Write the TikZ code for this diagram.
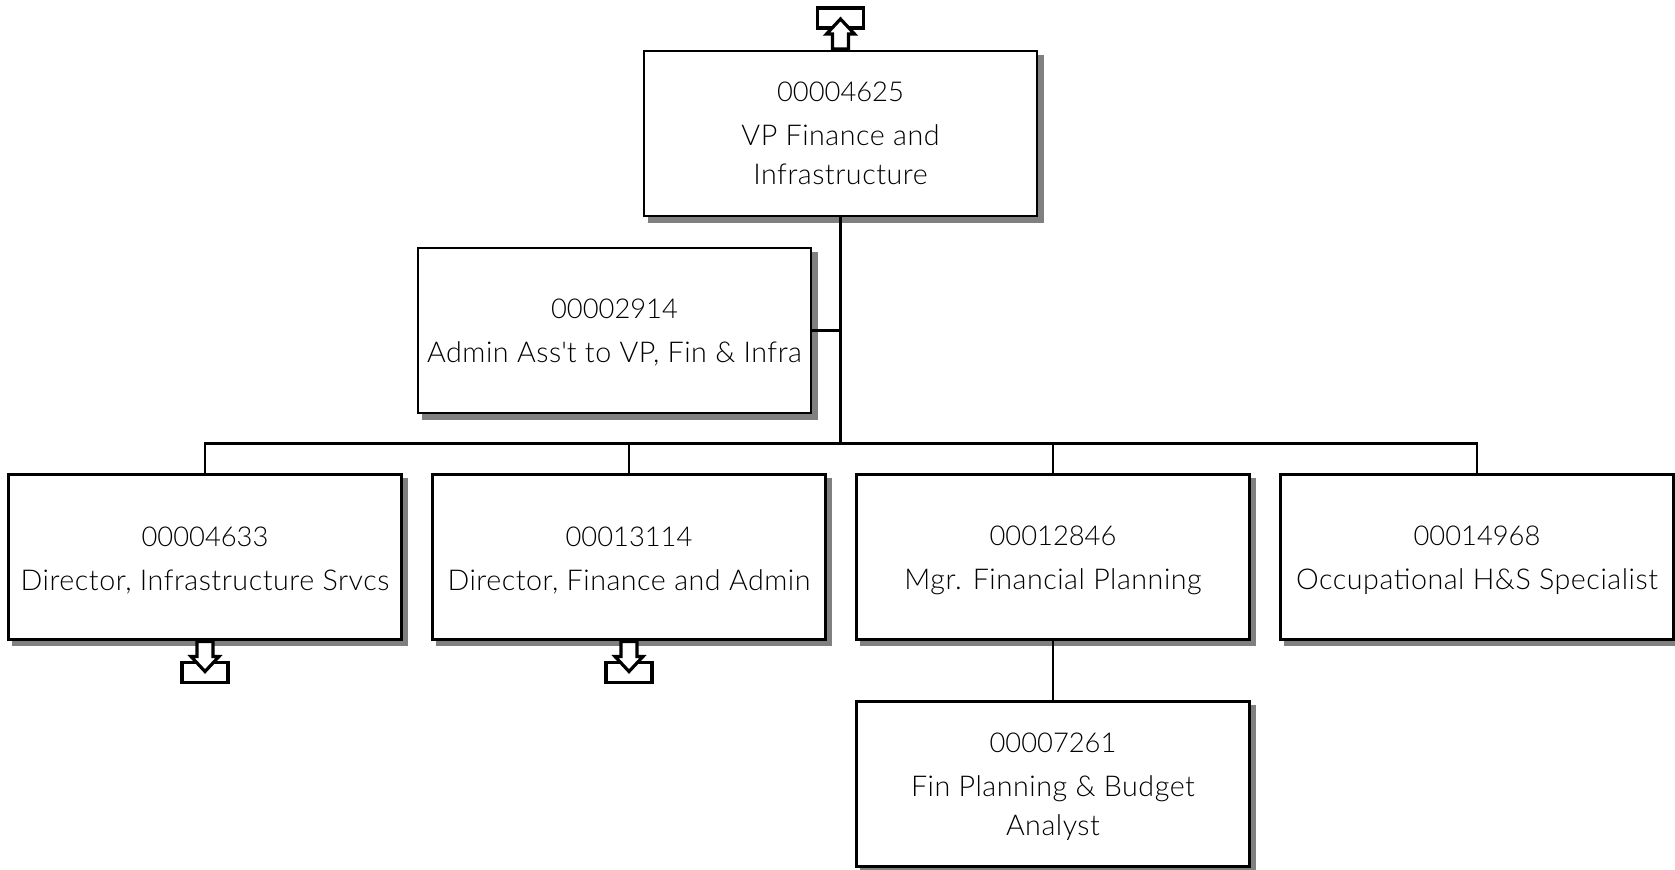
\documentclass[tikz,border=0pt]{standalone}
\usepackage{fontspec}
\setmainfont[LetterSpace=1.8]{Lato Light}
\newfontfamily\idfont{Lato Light}
\newcommand{\posid}[2][0pt]{\rule{0pt}{#1}{\idfont\fontsize{20.5}{29.25}\selectfont #2}\\[3.75pt]}
\usepackage{tikz}
\usetikzlibrary{positioning,shadows}
\definecolor{shadowgray}{HTML}{808080}

\begin{document}
\begin{tikzpicture}[x=0.75pt,y=0.75pt]
\tikzstyle{posbox}=[rectangle,draw,fill=white,line width=2.2pt,outer sep=0pt,align=center,minimum width=294.75pt,minimum height=123.75pt,inner sep=0pt,font=\fontsize{21.5}{29.25}\selectfont,drop shadow={shadow xshift=3.9pt,shadow yshift=-3.9pt,fill=shadowgray,draw=shadowgray,opacity=1}]
\tikzstyle{link}=[line width=1.9pt]
\tikzset{tab/.pic={
	\draw[line width=2.4pt,fill=white] (-23,23) rectangle (23,43);
	\draw[line width=2.4pt,fill=white,line join=miter] (-8,2) -- (-8,17) -- (-14,17) -- (0,32) -- (14,17) -- (8,17) -- (8,2) -- cycle;
}}
\useasboundingbox (0,0) rectangle (1675,-869);

\node[posbox] (vp) at (840.5,-133.5) {\posid{00004625}VP Finance and\\Infrastructure};
\node[posbox] (admin) at (614.5,-330.5) {\posid[17.4pt]{00002914}Admin Ass\textquotesingle t to VP, Fin \& Infra};
\node[posbox] (infra) at (205,-557) {\posid[19.8pt]{00004633}Director, Infrastructure Srvcs};
\node[posbox,right=31 of infra] (finance) {\posid[19.8pt]{00013114}Director, Finance and Admin};
\node[posbox,right=31 of finance] (planning) {\posid[19.8pt]{00012846}Mgr. Financial Planning};
\node[posbox,right=31 of planning] (safety) {\posid[19.8pt]{00014968}Occupational H\&S Specialist};
\node[posbox,below=62 of planning] (analyst) {\posid[19pt]{00007261}Fin Planning \& Budget\\Analyst};
\coordinate (bus) at (840.5,-443.5);

\draw[link] (vp.south) -- (bus);
\draw[link] (admin.east) -- (admin.east -| vp.south);
\foreach \kid in {infra,finance,planning,safety}
	\draw[link] (bus) -| (\kid.north);
\draw[link] (planning.south) -- (analyst.north);

\pic at (vp.north) {tab};
\pic[yscale=-1] at (infra.south) {tab};
\pic[yscale=-1] at (finance.south) {tab};
\end{tikzpicture}
\end{document}
